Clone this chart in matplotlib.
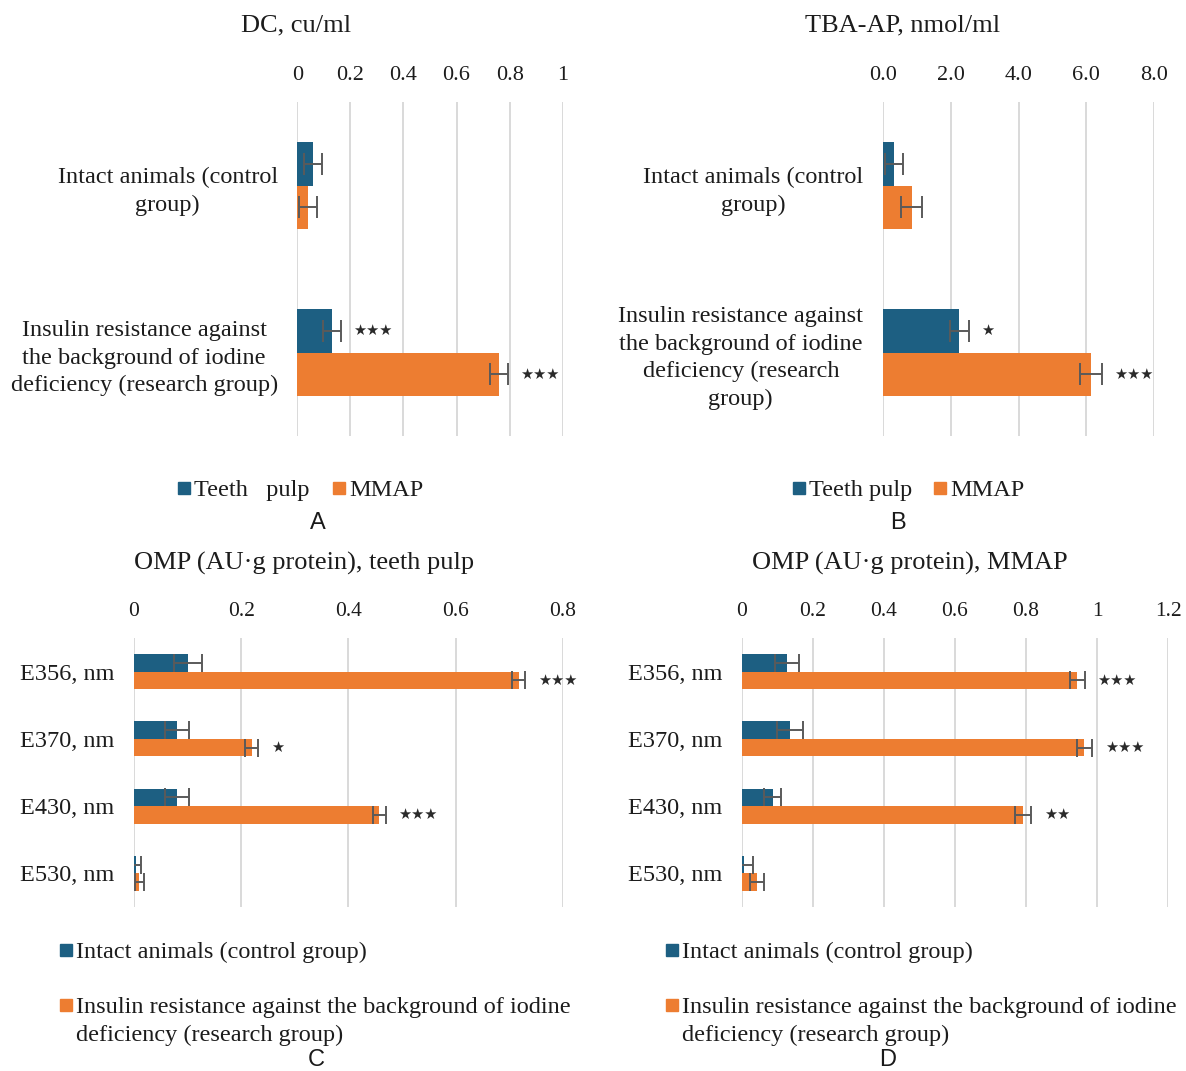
import matplotlib
matplotlib.use('Agg')
import matplotlib.pyplot as plt
from matplotlib.patches import Rectangle
import numpy as np

plt.rcParams['font.family'] = ['Liberation Serif', 'DejaVu Serif']

# ---- data ----
dc_groups = ['Intact animals (control\ngroup)',
             'Insulin resistance against\nthe background of iodine\ndeficiency (research group)']
dc_pulp = [0.06, 0.13]
dc_pulp_err = [0.033, 0.033]
dc_mmap = [0.04, 0.76]
dc_mmap_err = [0.033, 0.033]
dc_pulp_sig = ['', '***']
dc_mmap_sig = ['', '***']

tba_groups = ['Intact animals (control\ngroup)',
              'Insulin resistance against\nthe background of iodine\ndeficiency (research\ngroup)']
tba_pulp = [0.34, 2.26]
tba_pulp_err = [0.27, 0.28]
tba_mmap = [0.85, 6.14]
tba_mmap_err = [0.32, 0.32]
tba_pulp_sig = ['', '*']
tba_mmap_sig = ['', '***']

omp_bands = ['E356, nm', 'E370, nm', 'E430, nm', 'E530, nm']
omp_pulp_control = [0.10, 0.08, 0.08, 0.004]
omp_pulp_control_err = [0.026, 0.022, 0.022, 0.009]
omp_pulp_research = [0.718, 0.22, 0.458, 0.010]
omp_pulp_research_err = [0.012, 0.012, 0.012, 0.008]
omp_pulp_sig = ['***', '*', '***', '']

omp_mmap_control = [0.127, 0.136, 0.087, 0.006]
omp_mmap_control_err = [0.034, 0.037, 0.023, 0.025]
omp_mmap_research = [0.944, 0.964, 0.792, 0.044]
omp_mmap_research_err = [0.021, 0.022, 0.022, 0.02]
omp_mmap_sig = ['***', '***', '**', '']

TEAL = '#1d5f82'
ORANGE = '#ed7d31'
TXT = '#1c1c1c'

W, H = 1186, 1071
fig = plt.figure(figsize=(W / 100, H / 100), dpi=100)
fig.patch.set_facecolor('white')


def px_axes(l, t, r, b):
    return fig.add_axes([l / W, 1 - b / H, (r - l) / W, (b - t) / H])


def stars(ax, vals, errs, ys, sig):
    for v, e, y, s in zip(vals, errs, ys, sig):
        if s:
            ax.annotate(s.replace('*', '\u2605'), xy=(v + e, y), xytext=(9, 0),
                        textcoords='offset points', va='center', ha='left',
                        fontsize=10.5, color='#2a2a2a', family='DejaVu Sans')


def panel(ax, cats, v1, e1, v2, e2, s1, s2, xmax, ticks, ticklabels,
          barh=0.26, cap=8, tick_fs=16, cat_fs=17.5):
    y = np.arange(len(cats))
    ax.barh(y - barh / 2, v1, height=barh, color=TEAL, zorder=2)
    ax.barh(y + barh / 2, v2, height=barh, color=ORANGE, zorder=2)
    ekw = dict(fmt='none', ecolor='#5a5a5a', elinewidth=1.4, capsize=cap,
               capthick=1.4, zorder=3)
    ax.errorbar(v1, y - barh / 2, xerr=e1, **ekw)
    ax.errorbar(v2, y + barh / 2, xerr=e2, **ekw)
    stars(ax, v1, e1, y - barh / 2, s1)
    stars(ax, v2, e2, y + barh / 2, s2)
    ax.set_xlim(0, xmax)
    ax.set_ylim(len(cats) - 0.5, -0.5)
    ax.set_xticks(ticks)
    ax.set_xticklabels(ticklabels)
    ax.set_yticks(y)
    ax.set_yticklabels(cats)
    for t in ax.get_yticklabels():
        t.set_multialignment('center')
        t.set_linespacing(1.4)
    ax.xaxis.grid(True, color='#d9d9d9', lw=1.4)
    ax.set_axisbelow(True)
    for sp in ax.spines.values():
        sp.set_visible(False)
    ax.tick_params(axis='x', top=True, labeltop=True, bottom=False,
                   labelbottom=False, length=0, pad=12, labelsize=tick_fs,
                   labelcolor=TXT)
    ax.tick_params(axis='y', length=0, pad=14, labelsize=cat_fs, labelcolor=TXT)


def legend_entry(x, y, color, text):
    fig.patches.append(Rectangle((x / W, 1 - (y + 6) / H), 12 / W, 12 / H,
                                 transform=fig.transFigure, color=color))
    fig.text((x + 16) / W, 1 - (y - 8) / H, text, va='top', ha='left',
             fontsize=17.5, color=TXT, linespacing=1.4)


# A
axA = px_axes(297.3, 102, 562.7, 436)
panel(axA, dc_groups, dc_pulp, dc_pulp_err, dc_mmap, dc_mmap_err,
      dc_pulp_sig, dc_mmap_sig, 1.0, [0, 0.2, 0.4, 0.6, 0.8, 1.0],
      ['0', '0.2', '0.4', '0.6', '0.8', '1'])
fig.text(296 / W, 1 - 25 / H, 'DC, cu/ml', ha='center', va='center',
         fontsize=19, color=TXT)

# B
axB = px_axes(882.7, 102, 1154.3, 436)
panel(axB, tba_groups, tba_pulp, tba_pulp_err, tba_mmap, tba_mmap_err,
      tba_pulp_sig, tba_mmap_sig, 8.0, [0, 2, 4, 6, 8],
      ['0.0', '2.0', '4.0', '6.0', '8.0'])
fig.text(903 / W, 1 - 25 / H, 'TBA-AP, nmol/ml', ha='center', va='center',
         fontsize=19, color=TXT)

# C
axC = px_axes(134, 638, 562.7, 907)
panel(axC, omp_bands, omp_pulp_control, omp_pulp_control_err,
      omp_pulp_research, omp_pulp_research_err, ['', '', '', ''],
      omp_pulp_sig, 0.8, [0, 0.2, 0.4, 0.6, 0.8],
      ['0', '0.2', '0.4', '0.6', '0.8'], cap=6.5, tick_fs=15.5)
fig.text(304 / W, 1 - 563 / H, 'OMP (AU\u00b7g protein), teeth pulp',
         ha='center', va='center', fontsize=19, color=TXT)

# D
axD = px_axes(741.7, 638, 1168.3, 907)
panel(axD, omp_bands, omp_mmap_control, omp_mmap_control_err,
      omp_mmap_research, omp_mmap_research_err, ['', '', '', ''],
      omp_mmap_sig, 1.2, [0, 0.2, 0.4, 0.6, 0.8, 1.0, 1.2],
      ['0', '0.2', '0.4', '0.6', '0.8', '1', '1.2'], cap=6.5, tick_fs=15.5)
fig.text(910 / W, 1 - 563 / H, 'OMP (AU\u00b7g protein), MMAP',
         ha='center', va='center', fontsize=19, color=TXT)

# legends
legend_entry(178, 488, TEAL, 'Teeth   pulp')
legend_entry(333, 488, ORANGE, 'MMAP')
legend_entry(793, 488, TEAL, 'Teeth pulp')
legend_entry(934, 488, ORANGE, 'MMAP')
for x0 in (60, 666):
    legend_entry(x0, 950, TEAL, 'Intact animals (control group)')
    legend_entry(x0, 1005, ORANGE,
                 'Insulin resistance against the background of iodine\n'
                 'deficiency (research group)')

# panel letters
for lbl, x, y in [('A', 318, 523), ('B', 898, 523), ('C', 316, 1060), ('D', 888, 1060)]:
    fig.text(x / W, 1 - y / H, lbl, ha='center', va='center', fontsize=17,
             family='Liberation Sans', color='#1a1a1a')

fig.savefig('out.png', dpi=100, facecolor='white')
